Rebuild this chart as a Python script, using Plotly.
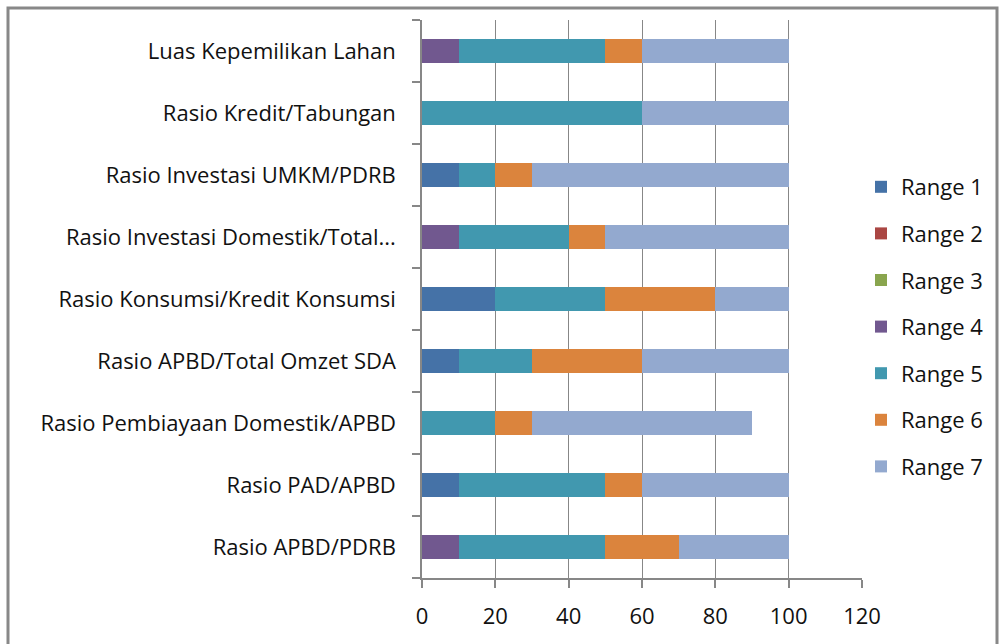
import plotly.graph_objects as go

categories = [
    "Rasio APBD/PDRB",
    "Rasio PAD/APBD",
    "Rasio Pembiayaan Domestik/APBD",
    "Rasio APBD/Total Omzet SDA",
    "Rasio Konsumsi/Kredit Konsumsi",
    "Rasio Investasi Domestik/Total...",
    "Rasio Investasi UMKM/PDRB",
    "Rasio Kredit/Tabungan",
    "Luas Kepemilikan Lahan",
]

range1 = [0, 10, 0, 10, 20, 0, 10, 0, 0]
range2 = [0, 0, 0, 0, 0, 0, 0, 0, 0]
range3 = [0, 0, 0, 0, 0, 0, 0, 0, 0]
range4 = [10, 0, 0, 0, 0, 10, 0, 0, 10]
range5 = [40, 40, 20, 20, 30, 30, 10, 60, 40]
range6 = [20, 10, 10, 30, 30, 10, 10, 0, 10]
range7 = [30, 40, 60, 40, 20, 50, 70, 40, 40]

series_names = ["Range 1", "Range 2", "Range 3", "Range 4", "Range 5", "Range 6", "Range 7"]
series_values = [range1, range2, range3, range4, range5, range6, range7]
colors = ["#4572A7", "#AA4643", "#89A54E", "#71588F", "#4198AF", "#DB843D", "#93A9CF"]

x_ticks = [0, 20, 40, 60, 80, 100, 120]

fig = go.Figure()
for name, vals, col in zip(series_names, series_values, colors):
    fig.add_trace(go.Bar(
        y=categories, x=vals, name=name, orientation="h",
        marker=dict(color=col, line=dict(width=0)),
        legendgroup=name,
    ))

W, H = 999, 644
L, R, T, B = 422, 137, 20, 66
pw = W - L - R
ph = H - T - B

def px_x(p):
    return (p - L) / pw

def px_y(p):
    return (H - B - p) / ph

FONT = "Open Sans, Lato, sans-serif"
FS = 22

fig.update_layout(
    width=W, height=H,
    margin=dict(l=L, r=R, t=T, b=B, autoexpand=False),
    barmode="stack",
    bargap=0.6,
    paper_bgcolor="white",
    plot_bgcolor="white",
    font=dict(family=FONT, size=FS, color="#111111"),
    showlegend=True,
    legend=dict(
        x=px_x(861), y=px_y(166), xanchor="left", yanchor="top",
        traceorder="grouped", tracegroupgap=15,
        font=dict(size=FS), bgcolor="rgba(0,0,0,0)",
    ),
    xaxis=dict(
        range=[0, 120], tickvals=x_ticks, ticktext=[str(t) for t in x_ticks],
        showgrid=True, gridcolor="#878787", gridwidth=1,
        showline=True, linecolor="#878787", linewidth=1.5,
        ticks="outside", ticklen=8, tickcolor="#878787", tickwidth=1.5,
        zeroline=False, fixedrange=True, automargin=False,
        tickfont=dict(size=FS), ticklabelstandoff=10,
    ),
    yaxis=dict(
        type="category", categoryorder="array", categoryarray=categories,
        showline=True, linecolor="#878787", linewidth=1.5,
        ticks="outside", ticklen=8, tickcolor="#878787", tickwidth=1.5,
        tickson="boundaries", ticklabelstandoff=20, automargin=False,
        showgrid=False, tickfont=dict(size=FS),
    ),
    shapes=[dict(
        type="rect", xref="paper", yref="paper",
        x0=px_x(8), x1=px_x(997), y0=px_y(660), y1=px_y(8),
        line=dict(color="#888888", width=3), fillcolor="rgba(0,0,0,0)",
        layer="below",
    )],
)

fig.write_html("out.html", config={"displayModeBar": False},
               post_script="document.body.style.margin='0';")
